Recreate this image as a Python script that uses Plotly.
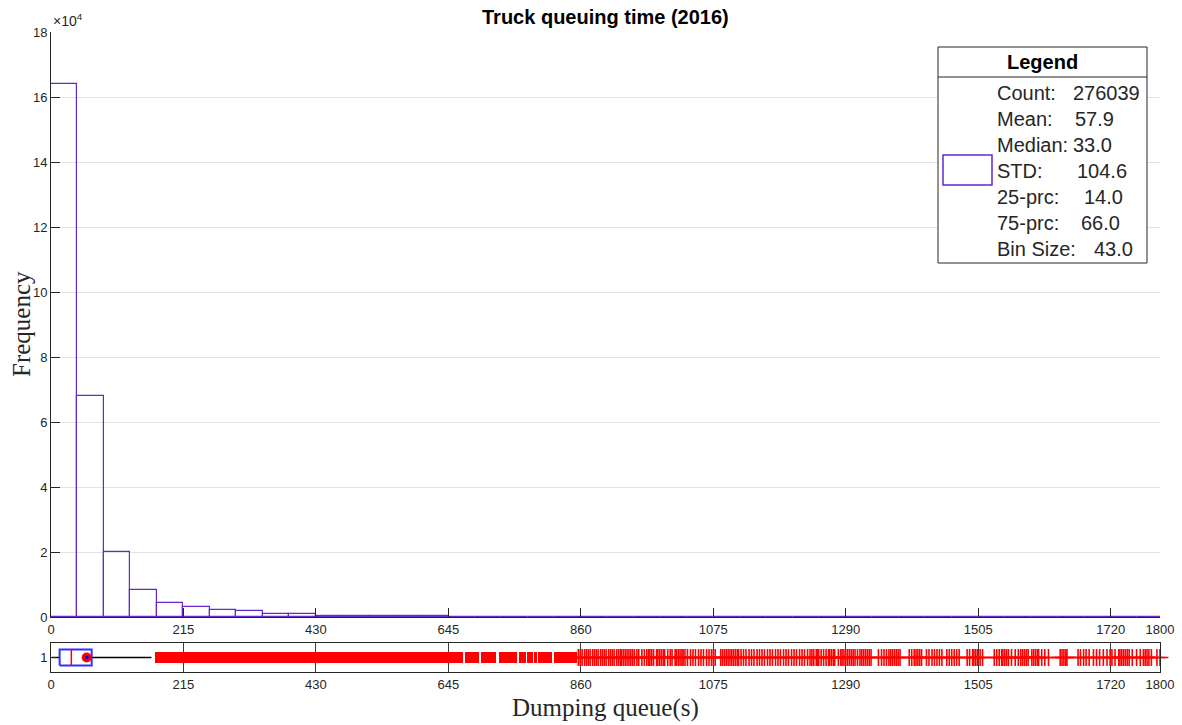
import plotly.graph_objects as go

# ---------------- data ----------------
bin_size = 43.0
hist_counts = [163900, 68100, 19900, 8300, 4300, 3100, 2100, 1700, 800, 850,
               400, 350, 250, 200, 180, 150, 130, 110, 100, 90,
               80, 75, 70, 60, 55, 50, 48, 45, 40, 38,
               35, 33, 30, 28, 26, 25, 22, 20, 18, 16, 15, 12]

x_ticks = [0, 215, 430, 645, 860, 1075, 1290, 1505, 1720, 1800]
y_ticks = [0, 20000, 40000, 60000, 80000, 100000, 120000, 140000, 160000, 180000]
y_tick_text = ["0", "2", "4", "6", "8", "10", "12", "14", "16", "18"]

stat_count = 276039
stat_mean = 57.9
stat_median = 33.0
stat_std = 104.6
stat_p25 = 14.0
stat_p75 = 66.0
whisker_low = 1.0
whisker_high = 163.0

# densely packed outliers (start, end)
dense_start = [168, 672, 698, 727, 760, 773, 784, 791, 816]
dense_end = [669, 695, 723, 757, 771, 782, 788, 813, 853]

outliers = [
    856, 859, 862, 866, 869, 872, 875, 879, 882, 885, 888, 892, 895, 898, 901, 905, 908, 911, 914,
    918, 921, 924, 926, 929, 932, 935, 938, 941, 944, 947,
    951, 954, 959, 963, 967,
    970, 972, 975, 978, 983, 985, 988, 991, 994, 996,
    1001, 1005, 1008,
    1013, 1015, 1018, 1021, 1024, 1026,
    1029, 1033, 1038, 1042, 1046, 1051, 1055, 1059, 1064, 1068, 1072, 1075, 1078,
    1087, 1090, 1093, 1096, 1099, 1102, 1105, 1108, 1111, 1114, 1116,
    1120, 1124, 1128, 1133, 1137, 1141, 1146, 1150, 1154, 1158, 1163, 1167, 1171, 1176,
    1180, 1184, 1189, 1193, 1197, 1202, 1206, 1210, 1215, 1219, 1223, 1228, 1232,
    1235, 1238, 1242, 1244, 1246, 1250, 1254, 1258, 1262,
    1264, 1267, 1270, 1272,
    1278, 1282, 1284, 1287, 1290, 1293, 1296, 1299,
    1302, 1305, 1309,
    1313, 1316, 1319, 1322, 1325, 1328, 1331,
    1343, 1348, 1352, 1356, 1360, 1363, 1366, 1369, 1372, 1375, 1378,
    1393, 1397, 1401, 1404, 1407, 1410, 1413,
    1421, 1425, 1430, 1434, 1438, 1442, 1446,
    1454, 1458, 1462, 1466, 1470, 1474,
    1487, 1491, 1496, 1498, 1501, 1504, 1508, 1512,
    1531, 1535, 1539, 1543, 1545, 1548, 1551,
    1554, 1559, 1565,
    1570, 1574, 1577, 1580, 1583, 1586,
    1592, 1595, 1598, 1601, 1603,
    1608, 1613, 1619,
    1638, 1641, 1644, 1647, 1649,
    1667, 1671, 1676, 1680, 1685,
    1692, 1697, 1702,
    1708, 1714, 1719,
    1722, 1727, 1733, 1735, 1738, 1741, 1744, 1747, 1750, 1755,
    1762, 1768,
    1773, 1776, 1779, 1782, 1786,
    1795, 1800,
]

legend_labels = ["Count:", "Mean:", "Median:", "STD:", "25-prc:", "75-prc:", "Bin Size:"]
legend_values = [f"{stat_count}", f"{stat_mean:.1f}", f"{stat_median:.1f}", f"{stat_std:.1f}",
                 f"{stat_p25:.1f}", f"{stat_p75:.1f}", f"{bin_size:.1f}"]

# ---------------- style ----------------
W, H = 1182, 725
PURPLE = "#6428cc"
AX = "#262626"
SANS = "Liberation Sans, Arial, sans-serif"
SERIF = "Liberation Serif, Times New Roman, serif"
TICKFONT = dict(family=SANS, size=13, color=AX)


def px_x(p):
    return p / W


def px_y(p):
    return (H - p) / H


bin_centers = [bin_size * (i + 0.5) for i in range(len(hist_counts))]

fig = go.Figure()

fig.add_trace(go.Bar(
    x=bin_centers, y=hist_counts, width=bin_size,
    marker=dict(color="rgba(255,255,255,0)", line=dict(color=PURPLE, width=1.2)),
    xaxis="x", yaxis="y", showlegend=False, hoverinfo="skip",
))

# boxplot subplot
half_h = 0.28
fig.add_trace(go.Scatter(
    x=[whisker_low, stat_p25, None, stat_p75, whisker_high],
    y=[1, 1, None, 1, 1], mode="lines", line=dict(color="black", width=1.5),
    xaxis="x2", yaxis="y2", showlegend=False, hoverinfo="skip"))

fig.add_trace(go.Bar(
    base=dense_start, x=[e - s for s, e in zip(dense_start, dense_end)],
    y=[1] * len(dense_start), orientation="h", width=0.38,
    marker=dict(color="red", line=dict(width=0)),
    xaxis="x2", yaxis="y2", showlegend=False, hoverinfo="skip"))

fig.add_trace(go.Scatter(
    x=outliers, y=[1] * len(outliers), mode="markers",
    marker=dict(symbol="cross-thin-open", size=12, color="red",
                line=dict(color="red", width=1.6)),
    cliponaxis=False,
    xaxis="x2", yaxis="y2", showlegend=False, hoverinfo="skip"))

fig.add_trace(go.Scatter(
    x=[stat_p25, stat_p75, stat_p75, stat_p25, stat_p25],
    y=[1 - half_h, 1 - half_h, 1 + half_h, 1 + half_h, 1 - half_h],
    mode="lines", line=dict(color="#3030ff", width=2),
    xaxis="x2", yaxis="y2", showlegend=False, hoverinfo="skip"))

fig.add_trace(go.Scatter(
    x=[stat_median, stat_median], y=[1 - half_h, 1 + half_h],
    mode="lines", line=dict(color="red", width=1.5),
    xaxis="x2", yaxis="y2", showlegend=False, hoverinfo="skip"))

fig.add_trace(go.Scatter(
    x=[stat_mean], y=[1], mode="markers",
    marker=dict(symbol="circle", size=10, color="red"),
    xaxis="x2", yaxis="y2", showlegend=False, hoverinfo="skip"))
fig.add_trace(go.Scatter(
    x=[stat_mean], y=[1], mode="markers",
    marker=dict(symbol="circle", size=4, color="#0000ff"),
    xaxis="x2", yaxis="y2", showlegend=False, hoverinfo="skip"))

x_dom = [px_x(51), px_x(1160)]

fig.update_layout(
    width=W, height=H, autosize=False,
    margin=dict(l=0, r=0, t=0, b=0, pad=0),
    paper_bgcolor="white", plot_bgcolor="white",
    bargap=0, barmode="overlay",
    xaxis=dict(domain=x_dom, range=[0, 1800], anchor="y", automargin=False,
               tickvals=x_ticks, ticktext=[str(t) for t in x_ticks],
               ticks="inside", ticklen=9, tickcolor=AX, tickfont=TICKFONT,
               showline=True, linecolor=AX, linewidth=1,
               showgrid=False, zeroline=False),
    yaxis=dict(domain=[px_y(617), px_y(32)], range=[0, 180000], anchor="x", automargin=False,
               tickvals=y_ticks, ticktext=y_tick_text,
               ticks="inside", ticklen=9, tickcolor=AX, tickfont=TICKFONT,
               showline=True, linecolor=AX, linewidth=1,
               showgrid=True, gridcolor="#e3e3e3", gridwidth=1, zeroline=False),
    xaxis2=dict(domain=x_dom, range=[0, 1800], anchor="y2", automargin=False,
                tickvals=x_ticks, ticktext=[str(t) for t in x_ticks],
                ticks="", tickfont=TICKFONT,
                showline=True, mirror=True, linecolor=AX, linewidth=1,
                showgrid=True, gridcolor="#3a3a3a", gridwidth=1, zeroline=False),
    yaxis2=dict(domain=[px_y(672), px_y(643)], range=[0.5, 1.5], anchor="x2", automargin=False,
                tickvals=[1], ticktext=["1"],
                ticks="inside", ticklen=5, tickcolor=AX, tickfont=TICKFONT,
                showline=True, mirror=True, linecolor=AX, linewidth=1,
                showgrid=False, zeroline=False),
)

LEG_FONT = dict(family=SANS, size=20, color=AX)

annotations = [
    dict(text="<b>Truck queuing time (2016)</b>", x=px_x(605.5), y=px_y(17),
         xref="paper", yref="paper", showarrow=False, xanchor="center", yanchor="middle",
         font=dict(family=SANS, size=20, color="black")),
    dict(text="×10<sup>4</sup>", x=px_x(51), y=px_y(20),
         xref="paper", yref="paper", showarrow=False, xanchor="left", yanchor="middle",
         font=dict(family=SANS, size=14, color=AX)),
    dict(text="Frequency", x=px_x(22), y=px_y(324), textangle=-90,
         xref="paper", yref="paper", showarrow=False, xanchor="center", yanchor="middle",
         font=dict(family=SERIF, size=25, color=AX)),
    dict(text="Dumping queue(s)", x=px_x(605.5), y=px_y(708),
         xref="paper", yref="paper", showarrow=False, xanchor="center", yanchor="middle",
         font=dict(family=SERIF, size=25, color=AX)),
    dict(text="<b>Legend</b>", x=px_x(1042.5), y=px_y(62),
         xref="paper", yref="paper", showarrow=False, xanchor="center", yanchor="middle",
         font=dict(family=SANS, size=20, color="black")),
]

value_x = [1071, 1073, 1071, 1075, 1082, 1079, 1092]
for i, (lab, val) in enumerate(zip(legend_labels, legend_values)):
    yy = px_y(93 + 26 * i)
    annotations.append(dict(text=lab, x=px_x(995), y=yy, xref="paper", yref="paper",
                            showarrow=False, xanchor="left", yanchor="middle", font=LEG_FONT))
    annotations.append(dict(text=val, x=px_x(value_x[i]), y=yy, xref="paper", yref="paper",
                            showarrow=False, xanchor="left", yanchor="middle", font=LEG_FONT))

fig.update_layout(annotations=annotations)

shapes = [
    dict(type="rect", xref="paper", yref="paper", x0=px_x(938), x1=px_x(1147),
         y0=px_y(263), y1=px_y(47), line=dict(color=AX, width=1), fillcolor="white", layer="above"),
    dict(type="line", xref="paper", yref="paper", x0=px_x(938), x1=px_x(1147),
         y0=px_y(77), y1=px_y(77), line=dict(color=AX, width=1), layer="above"),
    dict(type="rect", xref="paper", yref="paper", x0=px_x(943), x1=px_x(992),
         y0=px_y(185), y1=px_y(155), line=dict(color=PURPLE, width=1.5),
         fillcolor="white", layer="above"),
]
fig.update_layout(shapes=shapes)

fig.write_html("out.html")
